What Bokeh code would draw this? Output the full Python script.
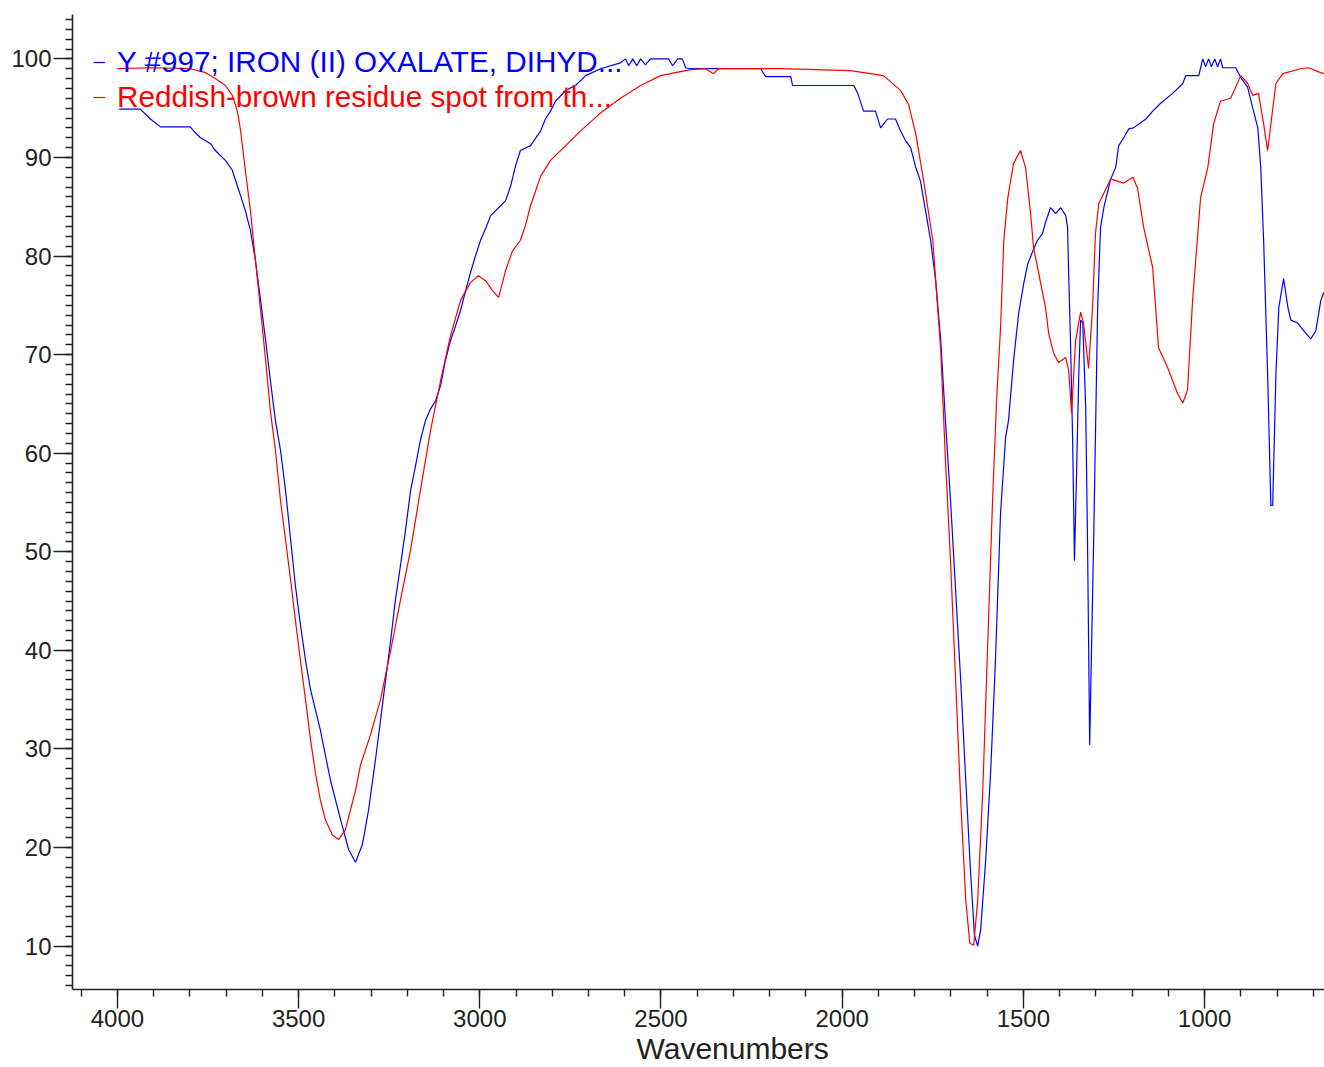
from bokeh.plotting import figure
from bokeh.models import Range1d, SingleIntervalTicker, Legend, LegendItem, Title
from bokeh.embed import file_html
from bokeh.resources import INLINE

# Blue: reference library spectrum (stepped)
blue_wn = [3995, 3937, 3909, 3881, 3799, 3785, 3771, 3743, 3730, 3702, 3683, 3669, 3660, 3647, 3633,
           3619, 3605, 3591, 3578, 3564, 3550, 3536, 3522, 3509, 3495, 3481, 3467, 3440, 3412, 3384,
           3362, 3343, 3324, 3307, 3288, 3274, 3260, 3246, 3233, 3219, 3205, 3191, 3177, 3164, 3150,
           3136, 3122, 3108, 3095, 3081, 3067, 3053, 3039, 3026, 3012, 2998, 2984, 2970, 2951, 2929,
           2915, 2901, 2888, 2860, 2832, 2819, 2805, 2791, 2763, 2736, 2708, 2667, 2612, 2598, 2589,
           2578, 2567, 2556, 2543, 2529, 2479, 2468, 2454, 2441, 2432, 2418, 2225, 2211, 2142, 2137,
           1968, 1957, 1941, 1908, 1894, 1875, 1853, 1839, 1825, 1811, 1797, 1784, 1770, 1756, 1742,
           1728, 1715, 1701, 1687, 1673, 1659, 1646, 1635, 1626, 1618, 1604, 1590, 1577, 1563, 1549,
           1541, 1527, 1513, 1499, 1488, 1474, 1461, 1447, 1439, 1425, 1411, 1397, 1383, 1378, 1375,
           1370, 1364, 1359, 1353, 1347, 1342, 1336, 1328, 1323, 1317, 1312, 1306, 1295, 1287, 1278,
           1259, 1245, 1237, 1223, 1209, 1196, 1162, 1143, 1121, 1088, 1060, 1052, 1016, 1005, 997,
           989, 981, 972, 964, 956, 950, 914, 900, 881, 867, 853, 845, 837, 826, 817,
           812, 803, 795, 782, 770, 762, 743, 726, 707, 693, 679, 671]
blue_t = [94.9, 94.9, 93.9, 93.1, 93.1, 92.5, 92.0, 91.4, 90.7, 89.7, 88.7, 87.1, 86.1, 84.6, 82.6,
          79.5, 75.5, 71.4, 67.4, 63.3, 60.3, 56.2, 51.2, 46.6, 42.6, 39.0, 36.0, 31.9, 26.8, 22.8,
          19.8, 18.5, 20.3, 23.8, 28.9, 32.9, 37.0, 41.0, 45.1, 48.6, 52.2, 56.2, 58.8, 61.3, 63.3,
          64.5, 65.3, 66.9, 69.4, 71.4, 72.9, 74.5, 76.5, 78.3, 80.0, 81.6, 82.8, 84.1, 84.8, 85.6,
          87.1, 89.2, 90.7, 91.2, 92.7, 93.9, 94.7, 95.7, 96.8, 97.3, 98.3, 99.0, 99.6, 100.0, 99.3,
          100.0, 99.3, 100.0, 99.4, 100.0, 100.0, 99.3, 100.0, 100.0, 99.1, 99.0, 99.0, 98.2, 98.2, 97.3,
          97.3, 96.5, 94.7, 94.7, 93.0, 93.9, 93.9, 92.7, 91.7, 91.0, 89.0, 87.6, 84.6, 81.6, 77.5,
          71.4, 63.3, 55.2, 46.1, 37.0, 26.8, 17.7, 11.1, 10.0, 11.6, 18.7, 27.9, 39.0, 53.9, 61.6,
          63.3, 69.4, 74.2, 77.2, 79.2, 80.5, 81.6, 82.3, 83.4, 84.9, 84.3, 84.9, 84.1, 82.9, 78.2,
          71.4, 61.3, 49.1, 58.3, 68.1, 73.5, 73.2, 64.6, 51.2, 30.4, 40.0, 51.2, 74.8, 82.9, 84.9,
          87.8, 89.0, 91.2, 92.0, 92.9, 93.0, 93.9, 94.7, 95.5, 96.5, 97.5, 98.3, 98.3, 100.0, 99.2,
          100.0, 99.2, 100.0, 99.2, 100.0, 99.1, 99.1, 98.1, 97.1, 95.0, 93.0, 89.0, 81.6, 68.1, 54.7,
          54.7, 68.1, 74.8, 77.7, 74.8, 73.5, 73.2, 72.4, 71.6, 72.4, 75.5, 76.3]

# Red: sample spectrum (smooth)
red_wn = [4000, 3909, 3799, 3757, 3730, 3702, 3683, 3669, 3660, 3647, 3633, 3619, 3605, 3591, 3578,
          3564, 3550, 3536, 3522, 3509, 3495, 3481, 3467, 3453, 3440, 3426, 3407, 3390, 3371, 3357,
          3343, 3329, 3302, 3274, 3246, 3219, 3191, 3164, 3136, 3108, 3081, 3053, 3026, 3004, 2984,
          2965, 2948, 2929, 2910, 2888, 2874, 2860, 2846, 2832, 2805, 2763, 2722, 2667, 2612, 2556,
          2501, 2418, 2377, 2355, 2341, 2170, 1977, 1886, 1839, 1817, 1797, 1775, 1750, 1728, 1715,
          1701, 1687, 1673, 1659, 1648, 1637, 1626, 1612, 1599, 1585, 1574, 1563, 1554, 1543, 1527,
          1508, 1494, 1480, 1472, 1452, 1439, 1430, 1416, 1403, 1383, 1375, 1367, 1356, 1342, 1334,
          1320, 1309, 1301, 1292, 1259, 1223, 1198, 1185, 1168, 1143, 1127, 1102, 1074, 1060, 1047,
          1033, 1011, 991, 975, 956, 928, 900, 881, 867, 851, 837, 826, 817, 803, 784,
          735, 713, 680, 669]
red_t = [99.0, 99.1, 99.0, 98.6, 98.0, 97.3, 96.3, 94.7, 92.7, 88.7, 84.6, 79.5, 74.5, 69.4, 64.3,
         60.3, 55.2, 51.2, 47.1, 43.1, 39.0, 35.0, 30.9, 27.4, 24.8, 22.8, 21.3, 20.8, 21.8, 23.8,
         25.8, 28.4, 31.4, 35.0, 40.0, 45.1, 50.2, 56.2, 62.3, 67.4, 71.9, 75.5, 77.3, 78.0, 77.5,
         76.5, 75.8, 78.5, 80.5, 81.6, 83.1, 85.1, 86.6, 88.1, 89.7, 91.2, 92.7, 94.5, 96.0, 97.3,
         98.3, 98.9, 99.0, 98.5, 99.0, 99.0, 98.8, 98.3, 96.8, 95.4, 92.4, 87.6, 81.6, 70.4, 59.3,
         49.1, 37.0, 24.8, 14.7, 10.3, 10.1, 14.7, 25.8, 40.0, 55.2, 65.3, 72.7, 81.6, 85.9, 89.4,
         90.7, 89.0, 84.3, 80.9, 77.2, 74.8, 72.1, 70.1, 69.2, 69.7, 68.4, 64.1, 71.4, 74.3, 73.2,
         68.6, 74.8, 82.3, 85.3, 87.8, 87.4, 88.0, 86.9, 82.9, 78.8, 70.7, 68.7, 66.0, 65.1, 66.4,
         75.5, 85.9, 89.0, 93.4, 95.7, 96.0, 98.3, 97.5, 96.3, 96.5, 93.4, 90.7, 93.4, 97.5, 98.5,
         99.0, 99.1, 98.6, 98.5]

blue_label = "Y #997; IRON (II) OXALATE, DIHYD..."
red_label = "Reddish-brown residue spot from th..."
x_label = "Wavenumbers"

FONT = "Liberation Sans"
INK = "#222222"

p = figure(width=1324, height=1067, output_backend="svg", toolbar_location=None,
           x_range=Range1d(4124, 669), y_range=Range1d(5.6, 104.5),
           min_border_left=72, min_border_right=0, min_border_top=14, min_border_bottom=78,
           outline_line_color=None, background_fill_color="white", border_fill_color="white")
p.xgrid.visible = False
p.ygrid.visible = False

blue_r = p.line(blue_wn, blue_t, line_color="#0000FF", line_width=1.2)
red_r = p.line(red_wn, red_t, line_color="#FF0000", line_width=1.2)

xa = p.xaxis[0]
xa.ticker = SingleIntervalTicker(interval=500, num_minor_ticks=5)
ya = p.yaxis[0]
ya.ticker = SingleIntervalTicker(interval=10, num_minor_ticks=10)
for ax in (xa, ya):
    ax.axis_line_color = INK
    ax.axis_line_width = 1.6
    ax.major_tick_line_color = INK
    ax.minor_tick_line_color = INK
    ax.major_tick_line_width = 1.4
    ax.minor_tick_line_width = 1.4
    ax.major_tick_in = 0
    ax.minor_tick_in = 0
    ax.major_tick_out = 19
    ax.minor_tick_out = 7
    ax.major_label_text_font = FONT
    ax.major_label_text_font_size = "24px"
    ax.major_label_text_color = INK
xa.major_label_standoff = 1
ya.major_label_standoff = 2

xt = Title(text=x_label, align="left", offset=564, text_font=FONT, text_font_size="30px",
           text_font_style="normal", text_color=INK, standoff=0)
p.add_layout(xt, "below")

for r, lab, col, ly in ((blue_r, blue_label, "#0000FF", 910), (red_r, red_label, "#FF0000", 875)):
    lg = Legend(items=[LegendItem(label=lab, renderers=[r])], location=(21, ly),
                label_text_font=FONT, label_text_font_size="29.7px", label_text_color=col,
                glyph_width=12, glyph_height=30, label_height=30, label_standoff=12,
                padding=0, margin=0, spacing=0, border_line_color=None,
                background_fill_alpha=0)
    p.add_layout(lg, "center")

open("out.html", "w").write(file_html(p, INLINE))
